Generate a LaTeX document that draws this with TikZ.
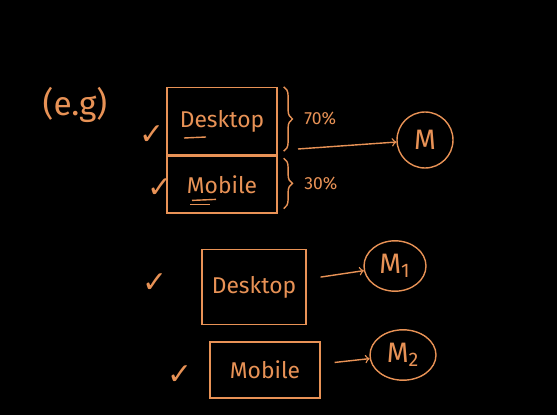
\documentclass[tikz,border=0pt]{standalone}
\usepackage{fontspec}
\setmainfont{Fira Sans}
\newfontfamily\symfont{DejaVu Sans}
\usetikzlibrary{arrows}
\usetikzlibrary{calc}
\usetikzlibrary{positioning}
\usetikzlibrary{shapes.geometric}
\usetikzlibrary{decorations.pathreplacing}
\usepackage{xcolor}
\definecolor{chalk}{RGB}{232,146,86}

\begin{document}
\begin{tikzpicture}[x=0.02cm,y=-0.02cm,
    every node/.style={text=chalk},
    pen/.style={draw=chalk,thick},
    box/.style={pen,rectangle,inner sep=0pt,font=\fontsize{13}{15}\selectfont},
    tick/.style={font=\symfont\fontsize{17}{17}\selectfont},
    small/.style={font=\fontsize{10}{12}\selectfont}]
    \fill[black] (0,0) rectangle (557,415);
    \node[font=\fontsize{19}{21}\selectfont] (eg) at (75,105) {(e.g)};
    % split box
    \node[box,minimum width=2.2cm,minimum height=1.34cm] (desk) at (222,121) {Desktop};
    \node[box,minimum width=2.2cm,minimum height=1.14cm,below=0pt of desk] (mob) {Mobile};
    \draw[pen] ($(desk.center)+(-38,17)$) -- ++(22,-1);
    \draw[pen] ($(mob.center)+(-30,16)$) -- ++(24,-1);
    \draw[pen] ($(mob.center)+(-32,20)$) -- ++(20,0);
    \node[tick] (c1) at (152,135) {✓};
    \node[tick] (c2) at (160,188) {✓};
    \draw[pen,decorate,decoration={brace,amplitude=5pt}] ($(desk.north east)+(6,0)$) -- ($(desk.south east)+(6,-4)$) node[midway,right=8pt,small] (p70) {70\%};
    \draw[pen,decorate,decoration={brace,amplitude=5pt}] ($(mob.north east)+(6,3)$) -- ($(mob.south east)+(6,-5)$) node[midway,right=8pt,small] (p30) {30\%};
    \node[pen,circle,minimum size=1.12cm,font=\fontsize{16}{18}\selectfont] (m) at (425,140) {M};
    \coordinate (split) at (298,149);
    \draw[pen,->] (split) -- (m);
    % separate boxes
    \node[box,minimum width=2.08cm,minimum height=1.5cm] (desk2) at (254,287) {Desktop};
    \node[pen,ellipse,minimum width=1.24cm,minimum height=0.92cm,font=\fontsize{16}{18}\selectfont] (m1) at (395,266) {M\textsubscript{1}};
    \draw[pen,->,shorten <=8pt] (desk2) -- (m1);
    \node[tick] (c3) at (155,283) {✓};
    \node[box,minimum width=2.2cm,minimum height=1.12cm] (mob2) at (265,370) {Mobile};
    \node[pen,ellipse,minimum width=1.32cm,minimum height=0.92cm,font=\fontsize{16}{18}\selectfont] (m2) at (403,355) {M\textsubscript{2}};
    \draw[pen,->,shorten <=8pt] (mob2) -- (m2);
    \node[tick] (c4) at (180,375) {✓};
\end{tikzpicture}
\end{document}
